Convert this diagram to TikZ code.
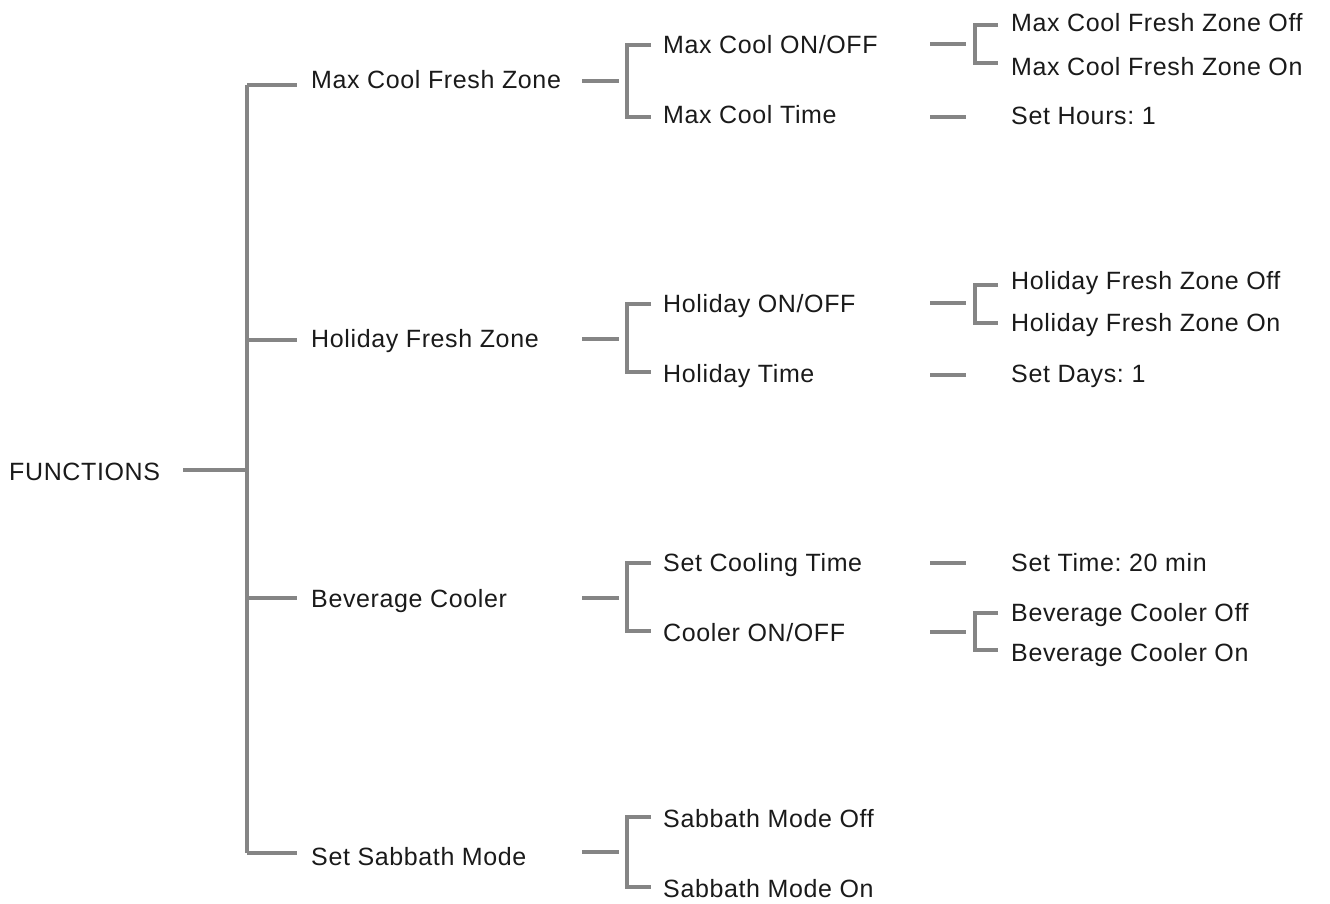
\documentclass[tikz,border=0pt]{standalone}
\usepackage{fontspec}
\setmainfont[LetterSpace=2.5]{Liberation Sans}
\definecolor{linegray}{HTML}{858585}
\definecolor{txtblack}{HTML}{1A1A1A}
\frenchspacing

\begin{document}
\begin{tikzpicture}[x=1pt, y=-1pt,
    lbl/.style={anchor=west, inner sep=0pt, text height=18pt, text depth=0pt,
      text=txtblack, font=\fontsize{25}{30}\selectfont},
    conn/.style={draw=linegray, line width=4pt, line join=miter}]
  \useasboundingbox (0,0) rectangle (1330,904);

  % Root and trunk
  \node[lbl] (fn) at (9,471) {FUNCTIONS};
  \coordinate (fnR) at (183,470);
  \coordinate (root) at (247,470);
  \coordinate (t1) at (247,85);
  \coordinate (t2) at (247,340);
  \coordinate (t3) at (247,598);
  \coordinate (t4) at (247,853);
  \draw[conn] (fnR) -- (root);
  \draw[conn] (t1) -- (t4);
  \draw[conn] (t1) -- ++(50,0);
  \draw[conn] (t2) -- ++(50,0);
  \draw[conn] (t3) -- ++(50,0);
  \draw[conn] (t4) -- ++(50,0);

  % Level 1
  \node[lbl] (maxcool) at (311,80) {Max Cool Fresh Zone};
  \node[lbl] (holiday) at (311,338) {Holiday Fresh Zone};
  \node[lbl] (bevcool) at (311,598) {Beverage Cooler};
  \node[lbl] (sabbath) at (311,856) {Set Sabbath Mode};

  % Max Cool Fresh Zone
  \node[lbl] (mcOnOff) at (663,45) {Max Cool ON/OFF};
  \node[lbl] (mcTime) at (663,115) {Max Cool Time};
  \draw[conn] (582,81) -- (619,81);
  \draw[conn] (651,45) -- (627,45) -- (627,117) -- (651,117);
  \node[lbl] (mcOff) at (1011,23) {Max Cool Fresh Zone Off};
  \node[lbl] (mcOn) at (1011,67) {Max Cool Fresh Zone On};
  \node[lbl] (mcHours) at (1011,116) {Set Hours: 1};
  \draw[conn] (930,44) -- (966,44);
  \draw[conn] (998,25) -- (975,25) -- (975,63) -- (998,63);
  \draw[conn] (930,117) -- (966,117);

  % Holiday Fresh Zone
  \node[lbl] (hOnOff) at (663,303) {Holiday ON/OFF};
  \node[lbl] (hTime) at (663,373) {Holiday Time};
  \draw[conn] (582,339) -- (619,339);
  \draw[conn] (651,304) -- (627,304) -- (627,372) -- (651,372);
  \node[lbl] (hOff) at (1011,280) {Holiday Fresh Zone Off};
  \node[lbl] (hOn) at (1011,322) {Holiday Fresh Zone On};
  \node[lbl] (hDays) at (1011,373) {Set Days: 1};
  \draw[conn] (930,303) -- (966,303);
  \draw[conn] (998,285) -- (975,285) -- (975,323) -- (998,323);
  \draw[conn] (930,375) -- (966,375);

  % Beverage Cooler
  \node[lbl] (bSetTime) at (663,562) {Set Cooling Time};
  \node[lbl] (bOnOff) at (663,632) {Cooler ON/OFF};
  \draw[conn] (582,598) -- (619,598);
  \draw[conn] (651,563) -- (627,563) -- (627,631) -- (651,631);
  \node[lbl] (bMin) at (1011,562) {Set Time: 20 min};
  \node[lbl] (bOff) at (1011,612) {Beverage Cooler Off};
  \node[lbl] (bOn) at (1011,652) {Beverage Cooler On};
  \draw[conn] (930,563) -- (966,563);
  \draw[conn] (930,632) -- (966,632);
  \draw[conn] (998,613) -- (975,613) -- (975,650) -- (998,650);

  % Set Sabbath Mode
  \node[lbl] (sOff) at (663,818) {Sabbath Mode Off};
  \node[lbl] (sOn) at (663,888) {Sabbath Mode On};
  \draw[conn] (582,852) -- (619,852);
  \draw[conn] (651,817) -- (627,817) -- (627,887) -- (651,887);
\end{tikzpicture}
\end{document}
